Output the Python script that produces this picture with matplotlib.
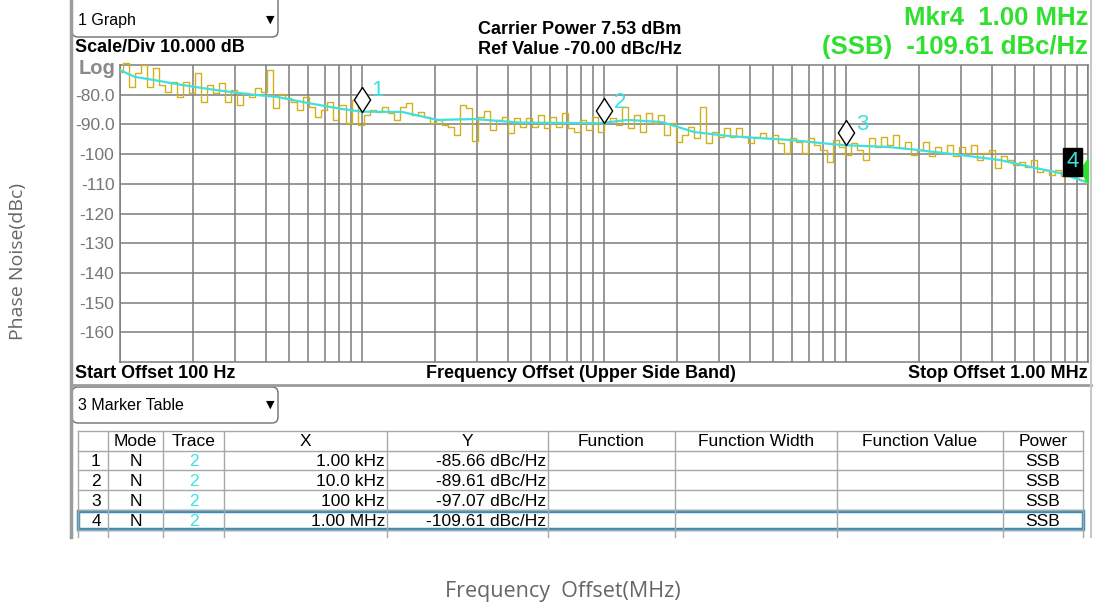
import numpy as np
import matplotlib
matplotlib.use("Agg")
import matplotlib.pyplot as plt
from matplotlib.path import Path
from matplotlib.patches import FancyBboxPatch, Rectangle

plt.rcParams["font.family"] = ["Liberation Sans", "DejaVu Sans"]
plt.rcParams["axes.unicode_minus"] = False

# measured trace (dBc/Hz), log-spaced sweep points 100 Hz .. 1 MHz
yellow_db = [
    -72.2, -69.4, -77.3, -72.8, -70.0, -77.3, -71.1, -76.7, -79.0, -75.6,
    -80.7, -75.6, -79.5, -72.8, -82.4, -76.7, -79.5, -76.2, -82.4, -78.4,
    -83.5, -79.5, -80.7, -77.9, -79.0, -71.7, -84.6,
    -79.8, -81.2, -82.4, -85.2, -80.7, -84.0, -87.4, -85.2, -82.4, -88.5,
    -83.5, -89.6, -81.8, -90.2, -86.8, -85.2, -85.7, -84.0, -86.3, -88.5,
    -84.0, -82.9, -86.8, -85.7, -87.4, -89.6, -88.5,
    -90.2, -90.8, -93.6, -83.5, -84.6, -95.5, -87.4, -85.5, -91.9, -88.5,
    -87.4, -93.0, -87.9, -90.8, -87.9, -90.8, -86.8, -91.3, -87.4, -90.8,
    -86.3, -91.3, -92.4, -88.5, -91.9, -87.4,
    -92.4, -89.1, -87.9, -90.2, -84.0, -91.3, -86.8, -92.4, -86.3, -89.6,
    -86.8, -93.6, -89.6, -95.8, -93.6, -90.8, -94.7, -84.0, -96.3, -92.4,
    -94.1, -91.3, -94.1, -91.3, -94.1, -96.3, -94.1,
    -93.0, -94.7, -93.6, -96.4, -99.7, -94.7, -95.8, -99.7, -94.7, -96.9,
    -98.6, -102.6, -95.3, -97.5, -100.3, -96.4, -98.6, -102.0, -94.7, -97.5,
    -94.1, -96.9, -93.6, -98.0, -95.8, -100.3, -98.6,
    -95.9, -100.8, -97.5, -99.7, -97.0, -100.8, -97.5, -99.7, -97.0, -102.0,
    -99.7, -98.6, -104.8, -100.8, -102.0, -103.6, -102.5, -104.2, -102.0, -105.9,
    -105.3, -107.0, -105.3, -107.5, -107.0, -108.1, -108.7, -109.8,
]

# smoothed trace
cyan_freq = [100, 115, 130, 180, 247, 338, 449, 598, 824, 1000,
             1460, 2055, 2930, 4500, 9570, 12.5e3, 17.3e3, 23.7e3, 32.6e3, 43.5e3,
             57.5e3, 79.6e3, 98.6e3, 149e3, 197.5e3, 296e3, 433e3, 577e3, 767e3, 1e6]
cyan_db = [-71.7, -74.0, -74.7, -76.7, -78.4, -79.8, -80.8, -82.8, -84.8, -85.7,
           -85.8, -88.5, -88.2, -89.4, -89.6, -88.5, -89.2, -92.6, -93.9, -94.6,
           -95.2, -96.3, -97.0, -97.6, -98.6, -100.3, -102.0, -104.3, -106.4, -109.6]

mkr_freq = [1e3, 1e4, 1e5, 1e6]
mkr_db = [-85.66, -89.61, -97.07, -109.61]
mkr_names = ["1", "2", "3", "4"]

y_ticks = [-80, -90, -100, -110, -120, -130, -140, -150, -160]
y_labels = ["-80.0", "-90.0", "-100", "-110", "-120", "-130", "-140", "-150", "-160"]

tbl_head = ["", "Mode", "Trace", "X", "Y", "Function", "Function Width", "Function Value", "Power"]
tbl_mode = ["N", "N", "N", "N"]
tbl_trace = ["2", "2", "2", "2"]
tbl_x = ["1.00 kHz", "10.0 kHz", "100 kHz", "1.00 MHz"]
tbl_y = ["-85.66 dBc/Hz", "-89.61 dBc/Hz", "-97.07 dBc/Hz", "-109.61 dBc/Hz"]
tbl_power = ["SSB", "SSB", "SSB", "SSB"]

W, H = 1095, 606
GRID = "#7c7c7c"
FRAME = "#9c9c9c"
YEL = "#d2b01a"
CYAN = "#3fe0e0"
GREEN = "#2fe02f"

fig = plt.figure(figsize=(W / 100, H / 100), dpi=100)
bg = fig.add_axes([0, 0, 1, 1])
bg.set_xlim(0, W)
bg.set_ylim(H, 0)
bg.axis("off")

# ---- plot area ----
ax = fig.add_axes([120 / W, 1 - 362 / H, (1088 - 120) / W, (362 - 65) / H])
ax.set_xscale("log")
ax.set_xlim(100, 1e6)
ax.set_ylim(-170, -70)
ax.set_yticks(y_ticks)
ax.set_yticklabels(y_labels)
ax.tick_params(axis="y", length=0, pad=4, labelsize=12.5, labelcolor="#767676")
ax.tick_params(axis="x", which="both", length=0, labelbottom=False)
ax.grid(True, which="both", axis="x", color=GRID, lw=1.1)
ax.grid(True, which="major", axis="y", color=GRID, lw=1.1)
for s in ax.spines.values():
    s.set_color(GRID)
    s.set_linewidth(1.1)

yf = np.logspace(2, 6, len(yellow_db))
ax.plot(yf, yellow_db, color=YEL, lw=1.0, drawstyle="steps-mid", clip_on=False, zorder=3)
ax.plot(cyan_freq, cyan_db, color=CYAN, lw=1.6, zorder=4)

diamond = Path([(0, 0), (0.65, 1), (0, 2), (-0.65, 1), (0, 0)],
               [Path.MOVETO, Path.LINETO, Path.LINETO, Path.LINETO, Path.CLOSEPOLY])
for f, v, n in zip(mkr_freq[:3], mkr_db[:3], mkr_names[:3]):
    ax.plot([f], [v], marker=diamond, ms=36, mfc="white", mec="black", mew=1, zorder=5)
    ax.annotate(n, (f, v), xytext=(7, 15), textcoords="offset points",
                color=CYAN, fontsize=16, ha="left", va="center", zorder=6)
ax.plot([mkr_freq[3]], [mkr_db[3]], marker=diamond, ms=36, mfc=GREEN, mec=GREEN, zorder=5)
ax.annotate(mkr_names[3], (mkr_freq[3], mkr_db[3]), xytext=(-11, 15), textcoords="offset points",
            color=CYAN, fontsize=16, ha="center", va="center", zorder=7, annotation_clip=False,
            bbox=dict(boxstyle="square,pad=0.15", fc="black", ec="black"))

# ---- instrument header ----
bg.text(116, 68, "Log", ha="right", va="center", fontsize=14.5, weight="bold", color="#8a8a8a")
bg.add_patch(FancyBboxPatch((72, -20), 206, 57, boxstyle="round,pad=0,rounding_size=6",
                            fc="none", ec="#6e6e6e", lw=1))
bg.text(78, 20, "1 Graph", ha="left", va="center", fontsize=11.5)
bg.text(270, 20, "▼", ha="center", va="center", fontsize=8, family=["DejaVu Sans"])
bg.text(75, 48, "Scale/Div 10.000 dB", ha="left", va="center", fontsize=13, weight="bold")
bg.text(478, 30, "Carrier Power 7.53 dBm", ha="left", va="center", fontsize=13, weight="bold")
bg.text(478, 49, "Ref Value -70.00 dBc/Hz", ha="left", va="center", fontsize=13, weight="bold")
bg.text(1088, 18, "Mkr4  1.00 MHz", ha="right", va="center", fontsize=18.5, weight="bold", color=GREEN)
bg.text(1088, 47, "(SSB)  -109.61 dBc/Hz", ha="right", va="center", fontsize=18.5, weight="bold", color=GREEN)
bg.text(75, 374, "Start Offset 100 Hz", ha="left", va="center", fontsize=13, weight="bold")
bg.text(581, 374, "Frequency Offset (Upper Side Band)", ha="center", va="center", fontsize=13, weight="bold")
bg.text(1088, 374, "Stop Offset 1.00 MHz", ha="right", va="center", fontsize=13, weight="bold")

# panel frame
bg.plot([71, 71], [0, 537], color=FRAME, lw=2.5)
bg.plot([71, 1091], [385, 385], color=FRAME, lw=2)
bg.plot([1091, 1091], [0, 537], color="#c8c8c8", lw=1.5)

# ---- marker table ----
bg.add_patch(FancyBboxPatch((72, 387), 206, 36, boxstyle="round,pad=0,rounding_size=6",
                            fc="none", ec="#6e6e6e", lw=1))
bg.text(78, 405, "3 Marker Table", ha="left", va="center", fontsize=11.5)
bg.text(270, 405, "▼", ha="center", va="center", fontsize=8, family=["DejaVu Sans"])

col_edges = [78, 108, 163, 224, 387, 548, 675, 837, 1003, 1083]
row_edges = [431, 451, 470, 490, 510, 530]
for yy in row_edges:
    bg.plot([col_edges[0], col_edges[-1]], [yy, yy], color="#a8a8a8", lw=1)
for xx in col_edges:
    bg.plot([xx, xx], [row_edges[0], 537], color="#a8a8a8", lw=1)

def cell_y(i):
    return (row_edges[i] + row_edges[i + 1]) / 2 + 1

for j, h in enumerate(tbl_head):
    bg.text((col_edges[j] + col_edges[j + 1]) / 2, cell_y(0), h, ha="center", va="center", fontsize=12.5)
for i in range(4):
    cy = cell_y(i + 1)
    bg.text(96, cy, str(i + 1), ha="center", va="center", fontsize=12.5)
    bg.text(135.5, cy, tbl_mode[i], ha="center", va="center", fontsize=12.5)
    bg.text(193.5, cy, tbl_trace[i], ha="center", va="center", fontsize=12.5, color=CYAN)
    bg.text(385, cy, tbl_x[i], ha="right", va="center", fontsize=12.5)
    bg.text(546, cy, tbl_y[i], ha="right", va="center", fontsize=12.5)
    bg.text(1043, cy, tbl_power[i], ha="center", va="center", fontsize=12.5)
bg.add_patch(Rectangle((78, 511), 1005, 18, fc="none", ec="#3b8db5", lw=2.5))

# ---- outer axis titles ----
bg.text(18, 262, "Phase Noise(dBc)", rotation=90, ha="center", va="center",
        fontsize=14, color="#666666", family=["Open Sans", "DejaVu Sans"])
bg.text(563, 592, "Frequency  Offset(MHz)", ha="center", va="center",
        fontsize=15.5, color="#666666", family=["Open Sans", "DejaVu Sans"])

fig.savefig("out.png", dpi=100)
